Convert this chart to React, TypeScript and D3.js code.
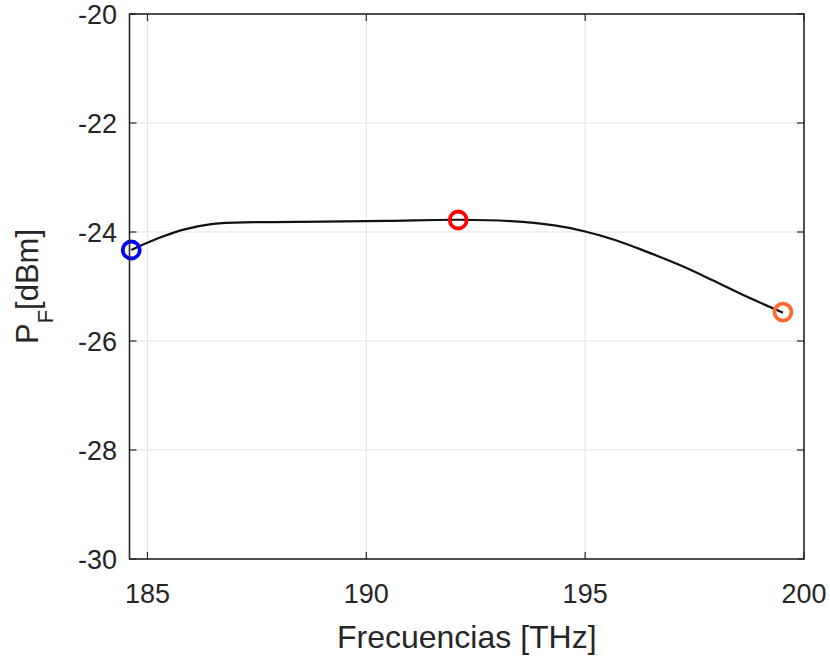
import React from "react";
import * as d3 from "d3";

const freqs = [184.63, 185.2, 185.8, 186.5, 187.5, 189, 190.5, 192.1, 193.3, 194.3, 195, 195.7, 196.4, 197.2, 197.9, 198.7, 199.52];
const power = [-24.33, -24.13, -23.96, -23.85, -23.82, -23.81, -23.795, -23.775, -23.8, -23.88, -23.99, -24.15, -24.36, -24.62, -24.88, -25.19, -25.48];
const markerFreqs = [184.63, 192.1, 199.52];
const markerPower = [-24.33, -23.78, -25.47];
const markerColors = ["#0000ff", "#ff0000", "#ff6a2e"];
const xTicks = [185, 190, 195, 200];
const yTicks = [-30, -28, -26, -24, -22, -20];

const W = 830;
const H = 657;
const L = 129.5;
const R = 804;
const T = 14;
const B = 559;
const FONT = "'Liberation Sans', Arial, Helvetica, sans-serif";

export default function App() {
  const x = d3.scaleLinear().domain([184.59, 200]).range([L, R]);
  const y = d3.scaleLinear().domain([-30, -20]).range([B, T]);
  const pts: [number, number][] = freqs.map((f, i) => [f, power[i]]);
  const line = d3
    .line<[number, number]>()
    .x((d) => x(d[0]))
    .y((d) => y(d[1]))
    .curve(d3.curveCatmullRom.alpha(0.5));
  const tl = 7;
  return (
    <svg
      width={W}
      height={H}
      style={{ position: "absolute", left: 0, top: 0, background: "#fff" }}
      fontFamily={FONT}
    >
      <rect x={0} y={0} width={W} height={H} fill="#fff" />
      {xTicks.map((t) => (
        <line key={"gx" + t} x1={x(t)} x2={x(t)} y1={T} y2={B} stroke="#e3e3e3" strokeWidth={1} />
      ))}
      {yTicks.map((t) => (
        <line key={"gy" + t} x1={L} x2={R} y1={y(t)} y2={y(t)} stroke="#e3e3e3" strokeWidth={1} />
      ))}
      {xTicks.map((t) => (
        <g key={"tx" + t} stroke="#262626" strokeWidth={1.2}>
          <line x1={x(t)} x2={x(t)} y1={B} y2={B - tl} />
          <line x1={x(t)} x2={x(t)} y1={T} y2={T + tl} />
        </g>
      ))}
      {yTicks.map((t) => (
        <g key={"ty" + t} stroke="#262626" strokeWidth={1.2}>
          <line x1={L} x2={L + tl} y1={y(t)} y2={y(t)} />
          <line x1={R} x2={R - tl} y1={y(t)} y2={y(t)} />
        </g>
      ))}
      <path d={line(pts) || ""} fill="none" stroke="#111" strokeWidth={2.2} />
      {markerFreqs.map((f, i) => (
        <circle
          key={"m" + i}
          cx={x(f)}
          cy={y(markerPower[i])}
          r={8.5}
          fill="none"
          stroke={markerColors[i]}
          strokeWidth={3.8}
        />
      ))}
      <rect x={L} y={T} width={R - L} height={B - T} fill="none" stroke="#262626" strokeWidth={1.6} />
      {xTicks.map((t) => (
        <text key={"lx" + t} x={x(t)} y={603} textAnchor="middle" fontSize={27} fill="#262626">
          {t}
        </text>
      ))}
      {yTicks.map((t) => (
        <text key={"ly" + t} x={117} y={y(t) + 9.5} textAnchor="end" fontSize={27} fill="#262626">
          {t}
        </text>
      ))}
      <text x={(L + R) / 2} y={648} textAnchor="middle" fontSize={32} fill="#262626">
        Frecuencias [THz]
      </text>
      <text transform={`translate(37.5, ${(T + B) / 2}) rotate(-90)`} textAnchor="middle" fontSize={31} fill="#262626">
        P
        <tspan fontSize={22} dy={15}>F</tspan>
        <tspan dy={-15}>[dBm]</tspan>
      </text>
    </svg>
  );
}
